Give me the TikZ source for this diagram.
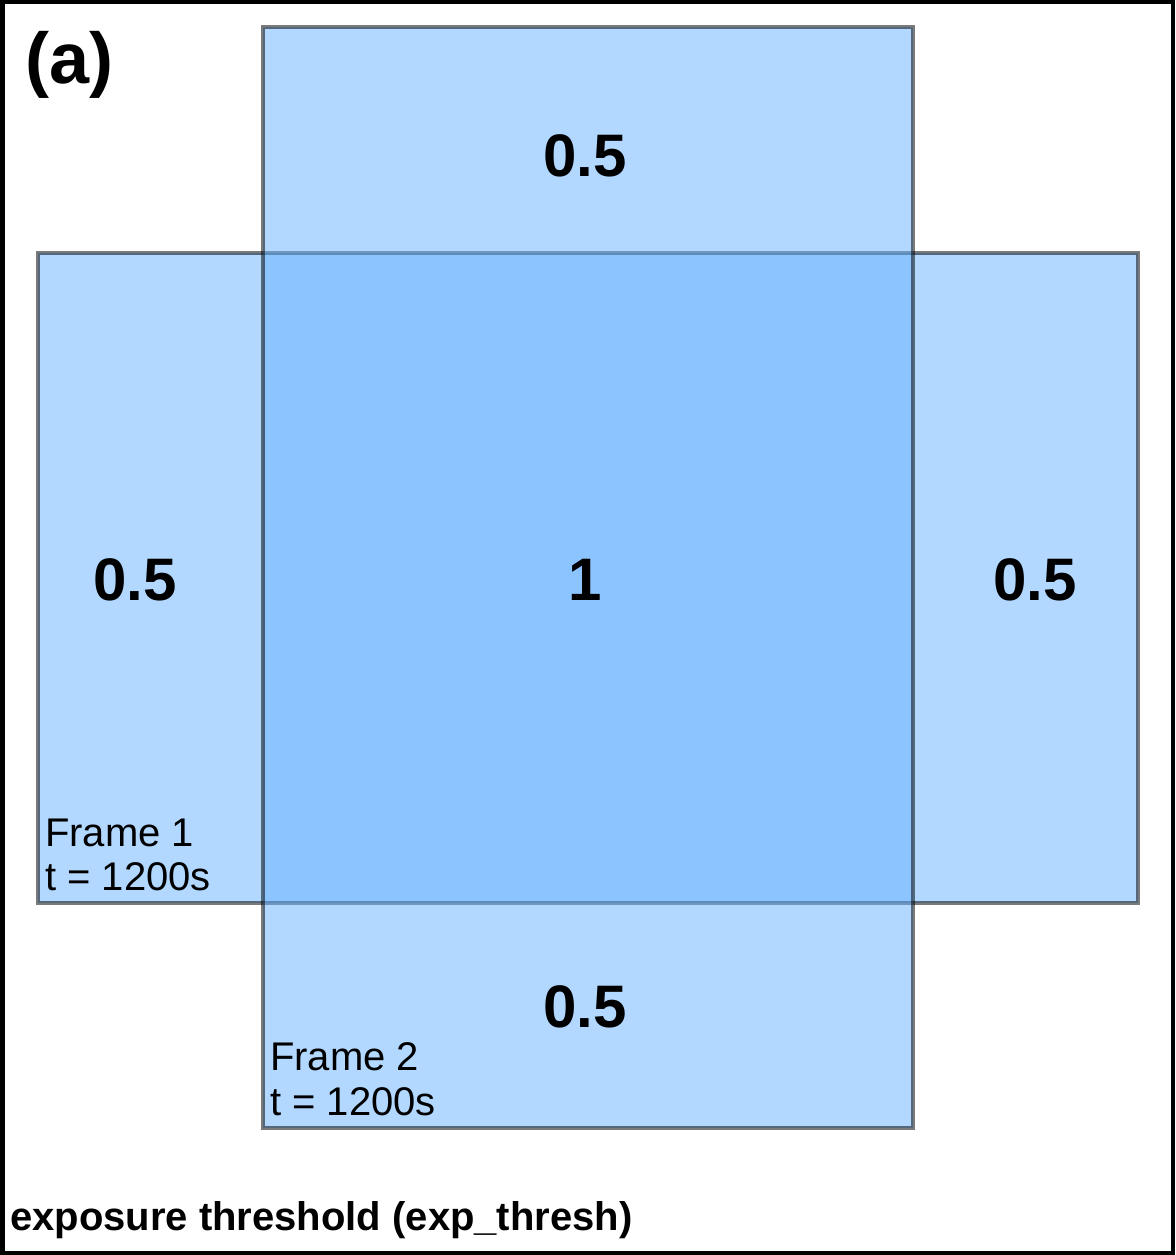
\documentclass[tikz,border=0pt]{standalone}
\usepackage{fontspec}
\setmainfont{Liberation Sans}
\begin{document}
\begin{tikzpicture}[x=1pt,y=-1pt,
  frame/.style={fill={rgb,255:red,102;green,178;blue,255},fill opacity=0.5,draw=black,draw opacity=0.52,line width=4pt},
  val/.style={inner sep=0pt,anchor=base,font=\bfseries\fontsize{60}{72}\selectfont},
  lbl/.style={inner sep=0pt,anchor=base west,align=left,font=\fontsize{40}{45}\selectfont}]
\useasboundingbox (0,0) rectangle (1175,1255);
\fill[white] (0,0) rectangle (1175,1255);
\draw[line width=4.5pt] (2.25,2.25) rectangle (1172.75,1252.75);
\draw[frame] (37.5,252.5) rectangle (1137.5,902.5);
\draw[frame] (262.5,27.5) rectangle (912.5,1127.5);
\node[inner sep=0pt,anchor=base west,font=\bfseries\fontsize{72}{86}\selectfont] (tag) at (25,84) {(a)};
\node[val] (top) at (585,176) {0.5};
\node[val] (left) at (135,600) {0.5};
\node[val] (mid) at (585,600) {1};
\node[val] (right) at (1035,600) {0.5};
\node[val] (bot) at (585,1027) {0.5};
\node[lbl] (f1a) at (45,846) {Frame 1};
\node[lbl] (f1b) at (45,890) {t = 1200s};
\node[lbl] (f2a) at (270,1070) {Frame 2};
\node[lbl] (f2b) at (270,1115) {t = 1200s};
\node[inner sep=0pt,anchor=base west,font=\bfseries\fontsize{40}{48}\selectfont] (cap) at (10,1230) {exposure threshold (exp\_thresh)};
\end{tikzpicture}
\end{document}
